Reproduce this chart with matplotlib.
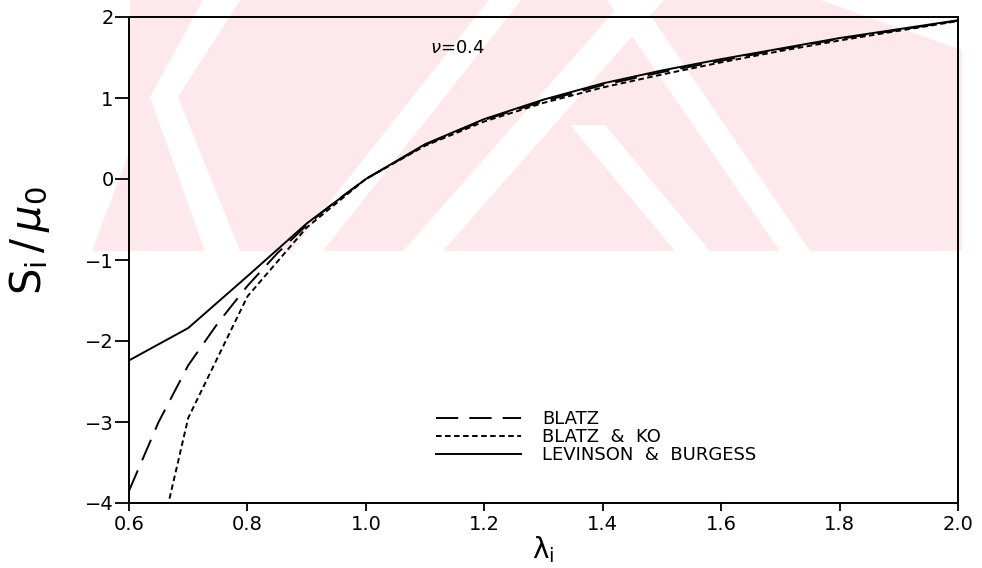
import matplotlib
matplotlib.use("Agg")
import matplotlib.pyplot as plt
from matplotlib.patches import Polygon

plt.rcParams["font.family"] = ["DejaVu Sans"]
plt.rcParams["mathtext.fontset"] = "dejavusans"
plt.rcParams["lines.scale_dashes"] = False

# stretch ratio lambda_i and normalised stress S_i / mu_0 (nu = 0.4)
lam_lb = [0.6, 0.7, 0.8, 0.9, 1.0, 1.1, 1.2, 1.3, 1.4, 1.5, 1.6, 1.7, 1.8, 1.9, 2.0]
s_lb = [-2.24, -1.84, -1.20, -0.55, 0.0, 0.43, 0.74, 0.98, 1.18, 1.34, 1.48, 1.61, 1.74, 1.85, 1.96]

lam_b = [0.6, 0.65, 0.7, 0.75, 0.8, 0.85, 0.9, 0.95, 1.0,
         1.1, 1.2, 1.3, 1.4, 1.5, 1.6, 1.7, 1.8, 1.9, 2.0]
s_b = [-3.85, -3.0, -2.3, -1.78, -1.32, -0.92, -0.57, -0.27, 0.0,
       0.42, 0.73, 0.96, 1.16, 1.32, 1.46, 1.60, 1.73, 1.84, 1.955]

lam_bk = [0.6, 0.7, 0.8, 0.9, 1.0, 1.1, 1.2, 1.3, 1.4, 1.5, 1.6, 1.7, 1.8, 1.9, 2.0]
s_bk = [-6.1, -2.95, -1.45, -0.60, 0.0, 0.41, 0.71, 0.94, 1.13, 1.29, 1.44, 1.58, 1.71, 1.83, 1.95]

labels = ["BLATZ", "BLATZ  &  KO", "LEVINSON  &  BURGESS"]
x_ticks = [0.6, 0.8, 1.0, 1.2, 1.4, 1.6, 1.8, 2.0]
y_ticks = [-4, -3, -2, -1, 0, 1, 2]

W, H = 982, 568
PINK = "#fde9ed"


def px(pts):
    return [(x / W, 1 - y / H) for x, y in pts]


fig = plt.figure(figsize=(W / 100, H / 100), dpi=100)

# faint background emblem (pink field cut by white bands)
fig.patches.append(Polygon(px([(130, 0), (962, 0), (962, 251), (92, 251), (130, 150)]),
                           closed=True, transform=fig.transFigure,
                           facecolor=PINK, edgecolor="none", zorder=-10))
gaps = [
    (0, 97, 203, 240, 150, 178),
    (97, 251, 150, 178, 205, 240),
    (0, 251, 489, 521, 291, 323),
    (0, 251, 624, 664, 403, 443),
    (125, 251, 570, 605, 675, 710),
    (0, 251, 607, 640, 780, 810),
]
for y0, y1, a0, b0, a1, b1 in gaps:
    fig.patches.append(Polygon(px([(a0, y0), (b0, y0), (b1, y1), (a1, y1)]),
                               closed=True, transform=fig.transFigure,
                               facecolor="white", edgecolor="none", zorder=-9))
fig.patches.append(Polygon(px([(820, 0), (962, 0), (962, 50)]),
                           closed=True, transform=fig.transFigure,
                           facecolor="white", edgecolor="none", zorder=-9))

ax = fig.add_axes([129 / W, 1 - 503 / H, 829 / W, 486 / H])
ax.set_facecolor("none")

ax.plot(lam_b, s_b, color="black", lw=1.4, dashes=(16, 8), label=labels[0])
ax.plot(lam_bk, s_bk, color="black", lw=1.4, dashes=(4, 2.5), label=labels[1])
ax.plot(lam_lb, s_lb, color="black", lw=1.4, label=labels[2])

ax.set_xlim(0.6, 2.0)
ax.set_ylim(-4, 2)
ax.set_xticks(x_ticks)
ax.set_xticklabels([f"{v:.1f}" for v in x_ticks])
ax.set_yticks(y_ticks)
ax.tick_params(axis="y", direction="out", length=10, width=1.3, pad=1, labelsize=14)
ax.tick_params(axis="x", direction="out", length=6, width=1.3, pad=3, labelsize=14)
for sp in ax.spines.values():
    sp.set_linewidth(1.4)

ax.set_xlabel("λ$_\\mathregular{i}$", fontsize=20, labelpad=0)
ax.set_ylabel(r"$\mathsf{S_i}\,/\,\mu_{\mathsf{0}}$", fontsize=30)
ax.yaxis.set_label_coords(-0.093, 0.54)

ax.text(1.108, 1.62, r"$\nu$=0.4", fontsize=13, ha="left", va="center")

ax.legend(loc="lower left", bbox_to_anchor=(0.37, 0.08), frameon=False,
          fontsize=13, handlelength=4.7, handletextpad=1.2,
          labelspacing=0.0, borderpad=0, borderaxespad=0)

fig.savefig("out.png", dpi=100)
